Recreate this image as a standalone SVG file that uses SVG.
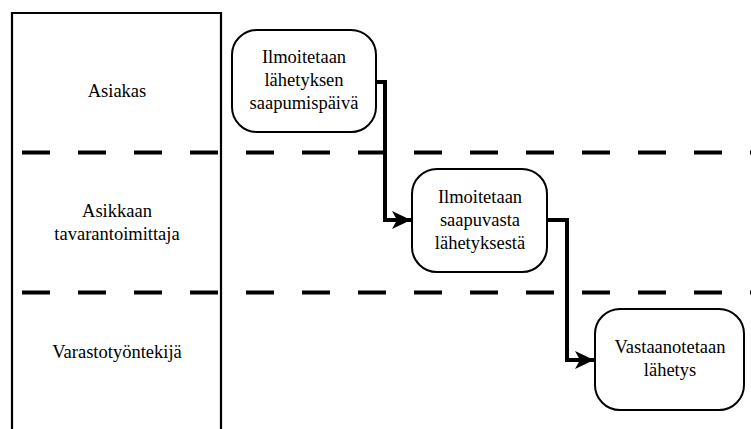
<svg xmlns="http://www.w3.org/2000/svg" width="751" height="429" viewBox="0 0 751 429">
  <defs>
    <style>
      text { font-family: "Liberation Serif", "DejaVu Serif", serif; }
      .lbl { font-size: 18.5px; fill: #000; text-anchor: middle; }
      .step { fill: #fff; stroke: #000; stroke-width: 2; }
      .lane { fill: none; stroke: #000; stroke-width: 4; stroke-dasharray: 28 28; }
      .flow { fill: none; stroke: #000; stroke-width: 4; stroke-linejoin: miter; }
    </style>
    <marker id="arrow" viewBox="0 0 20 20" refX="19" refY="10" markerWidth="20" markerHeight="20" markerUnits="userSpaceOnUse" orient="auto">
      <path d="M0,1 L19,10 L0,19 L5,10 Z" fill="#000"/>
    </marker>
  </defs>

  <rect width="751" height="429" fill="#fff"/>

  <!-- role column -->
  <g id="roles">
    <path d="M12,440 V13 H221 V440" fill="none" stroke="#000" stroke-width="2.2"/>
  </g>

  <!-- lane separators -->
  <g id="lanes">
    <line class="lane" x1="22" y1="152.5" x2="751" y2="152.5"/>
    <line class="lane" x1="22" y1="292.5" x2="751" y2="292.5"/>
  </g>

  <g id="role-asiakas" font-family="Liberation Serif, serif">
    <text class="lbl" x="117" y="97">Asiakas</text>
  </g>
  <g id="role-tavarantoimittaja" font-family="Liberation Serif, serif">
    <text class="lbl" x="117" y="217">Asikkaan</text>
    <text class="lbl" x="117" y="240">tavarantoimittaja</text>
  </g>
  <g id="role-varasto" font-family="Liberation Serif, serif">
    <text class="lbl" x="117" y="358">Varastotyöntekijä</text>
  </g>

  <!-- connectors -->
  <g id="connectors">
    <path class="flow" d="M376,82 H385 V220 H411" marker-end="url(#arrow)"/>
    <path class="flow" d="M547,220 H567 V360 H594" marker-end="url(#arrow)"/>
  </g>

  <g id="step1" font-family="Liberation Serif, serif">
    <rect class="step" x="232" y="30" width="144" height="102" rx="25" ry="25"/>
    <text class="lbl" x="304" y="63">Ilmoitetaan</text>
    <text class="lbl" x="304" y="86">lähetyksen</text>
    <text class="lbl" x="304" y="109">saapumispäivä</text>
  </g>

  <g id="step2" font-family="Liberation Serif, serif">
    <rect class="step" x="412" y="169" width="135" height="103" rx="25" ry="25"/>
    <text class="lbl" x="480" y="203">Ilmoitetaan</text>
    <text class="lbl" x="480" y="226">saapuvasta</text>
    <text class="lbl" x="480" y="249">lähetyksestä</text>
  </g>

  <g id="step3" font-family="Liberation Serif, serif">
    <rect class="step" x="595" y="309" width="149" height="101" rx="25" ry="25"/>
    <text class="lbl" x="670" y="353">Vastaanotetaan</text>
    <text class="lbl" x="670" y="376">lähetys</text>
  </g>
</svg>
